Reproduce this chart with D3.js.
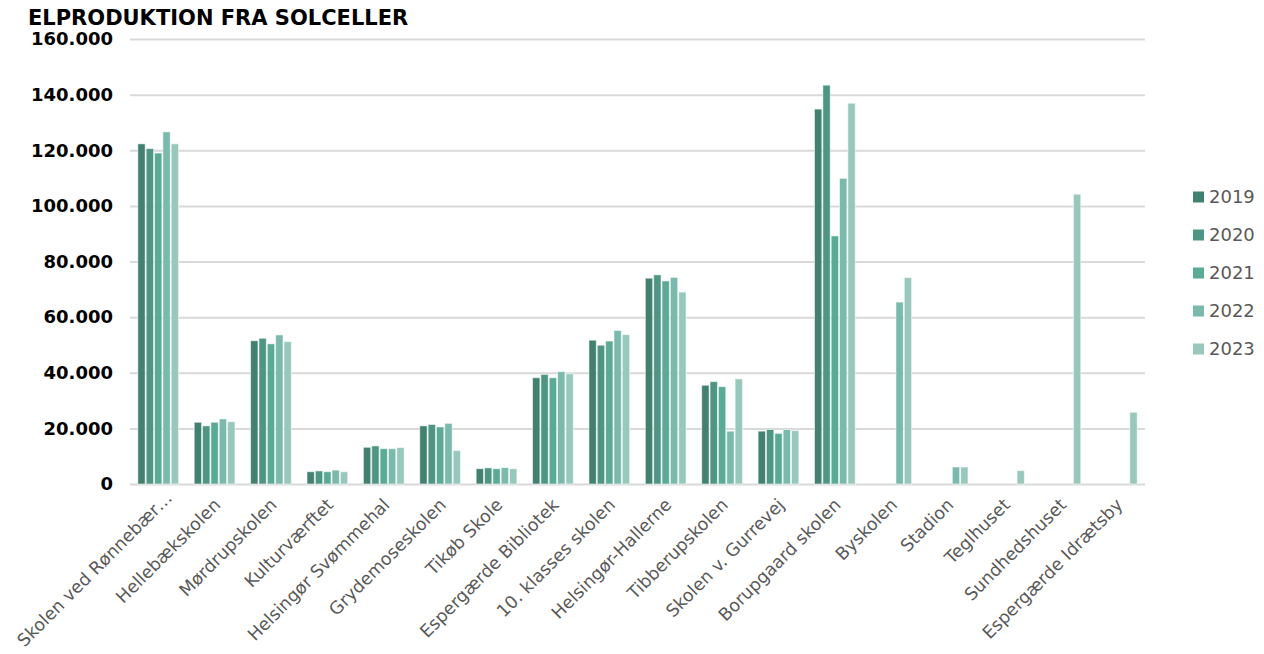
<!DOCTYPE html>
<html>
<head>
<meta charset="utf-8">
<script src="https://cdn.jsdelivr.net/npm/d3@7"></script>
<style>
  html, body { margin: 0; padding: 0; background: #fff; }
  svg { display: block; font-family: "DejaVu Sans", Verdana, sans-serif; }
</style>
</head>
<body>
<svg id="chart" width="1264" height="654"></svg>
<script>
// Annual solar power production (kWh) per municipal building
const categories = [
  "Skolen ved Rønnebær…", "Hellebækskolen", "Mørdrupskolen", "Kulturværftet",
  "Helsingør Svømmehal", "Grydemoseskolen", "Tikøb Skole", "Espergærde Bibliotek",
  "10. klasses skolen", "Helsingør-Hallerne", "Tibberupskolen", "Skolen v. Gurrevej",
  "Borupgaard skolen", "Byskolen", "Stadion", "Teglhuset", "Sundhedshuset",
  "Espergærde Idrætsby"
];
const years = ["2019", "2020", "2021", "2022", "2023"];

const values2019 = [122300, 22200, 51500, 4400, 13200, 20900, 5500, 38200, 51700, 74000, 35500, 19000, 134800, null, null, null, null, null];
const values2020 = [120600, 20900, 52400, 4700, 13700, 21400, 5800, 39400, 49900, 75200, 36800, 19600, 143400, null, null, null, null, null];
const values2021 = [119000, 22200, 50400, 4400, 12700, 20500, 5500, 38200, 51400, 73000, 35000, 18200, 89200, null, null, null, null, null];
const values2022 = [126600, 23400, 53600, 5000, 12700, 21800, 5900, 40400, 55200, 74300, 19000, 19600, 109900, 65400, 6100, null, null, null];
const values2023 = [122300, 22400, 51200, 4400, 13100, 12000, 5500, 39600, 53700, 69000, 37800, 19200, 136900, 74200, 6100, 4800, 104200, 25800];

const yTicks = [0, 20000, 40000, 60000, 80000, 100000, 120000, 140000, 160000];
const yearColors = ["#42806f", "#4e9584", "#5aaa96", "#7ab9ab", "#97c8bb"];

const seriesValues = [values2019, values2020, values2021, values2022, values2023];

const svg = d3.select("#chart");
const margin = { left: 130, right: 119, top: 39, bottom: 170 };
const W = 1264, H = 654;
const plotRight = W - margin.right;
const plotBottom = H - margin.bottom;

const da = d3.formatLocale({ decimal: ",", thousands: ".", grouping: [3], currency: ["", " kr."] });
const fmt = da.format(",.0f");

const x = d3.scaleBand().domain(categories).range([margin.left, plotRight])
  .paddingInner(0.26).paddingOuter(0.13);
const xInner = d3.scaleBand().domain(years).range([0, x.bandwidth()]).padding(0);
const y = d3.scaleLinear().domain([0, 160000]).range([plotBottom, margin.top]);
const color = d3.scaleOrdinal().domain(years).range(yearColors);

// Title
svg.append("text")
  .attr("x", 28).attr("y", 25)
  .attr("font-size", 21).attr("font-weight", "bold").attr("fill", "#000")
  .text("ELPRODUKTION FRA SOLCELLER");

// Gridlines and y labels
const yAxis = d3.axisLeft(y).tickValues(yTicks).tickFormat(fmt)
  .tickSize(-(plotRight - margin.left)).tickPadding(17);
const gy = svg.append("g").attr("transform", `translate(${margin.left},0)`).call(yAxis);
gy.select(".domain").remove();
gy.selectAll(".tick line").attr("stroke", "#d9d9d9").attr("stroke-width", 2);
gy.selectAll(".tick text")
  .attr("font-size", 18).attr("font-weight", "bold").attr("fill", "#000")
  .attr("font-family", "DejaVu Sans, sans-serif");

// Bars
const groups = svg.append("g").selectAll("g")
  .data(categories)
  .join("g")
  .attr("transform", d => `translate(${x(d)},0)`);

groups.selectAll("rect")
  .data((d, i) => years.map((yr, j) => ({ yr, v: seriesValues[j][i] })).filter(e => e.v != null))
  .join("rect")
  .attr("x", d => xInner(d.yr) + 0.5)
  .attr("width", xInner.bandwidth() - 1)
  .attr("y", d => y(d.v))
  .attr("height", d => y(0) - y(d.v))
  .attr("fill", d => color(d.yr))
  .attr("stroke", "rgba(255,255,255,0.55)")
  .attr("stroke-width", 1);

// X axis category labels (the truncated first label sits a little higher)
const xAxis = d3.axisBottom(x).tickSize(0).tickPadding(0);
const gx = svg.append("g").attr("transform", `translate(0,${plotBottom})`).call(xAxis);
gx.select(".domain").remove();
gx.selectAll(".tick text")
  .attr("font-size", 17.5).attr("fill", "#595959")
  .attr("font-family", "DejaVu Sans, sans-serif")
  .attr("text-anchor", "end")
  .attr("transform", (d, i) => i === 0 ? "translate(15,15) rotate(-45)" : "translate(7,22) rotate(-45)")
  .attr("dy", 0).attr("y", 0);

// Legend
const legend = svg.append("g").selectAll("g")
  .data(years)
  .join("g")
  .attr("transform", (d, i) => `translate(1193,${197 + i * 38})`);
legend.append("rect")
  .attr("x", 0).attr("y", -5.5).attr("width", 11).attr("height", 11)
  .attr("fill", d => color(d));
legend.append("text")
  .attr("x", 16).attr("y", 0).attr("dy", "0.36em")
  .attr("font-size", 18).attr("fill", "#595959")
  .text(d => d);
</script>
</body>
</html>
